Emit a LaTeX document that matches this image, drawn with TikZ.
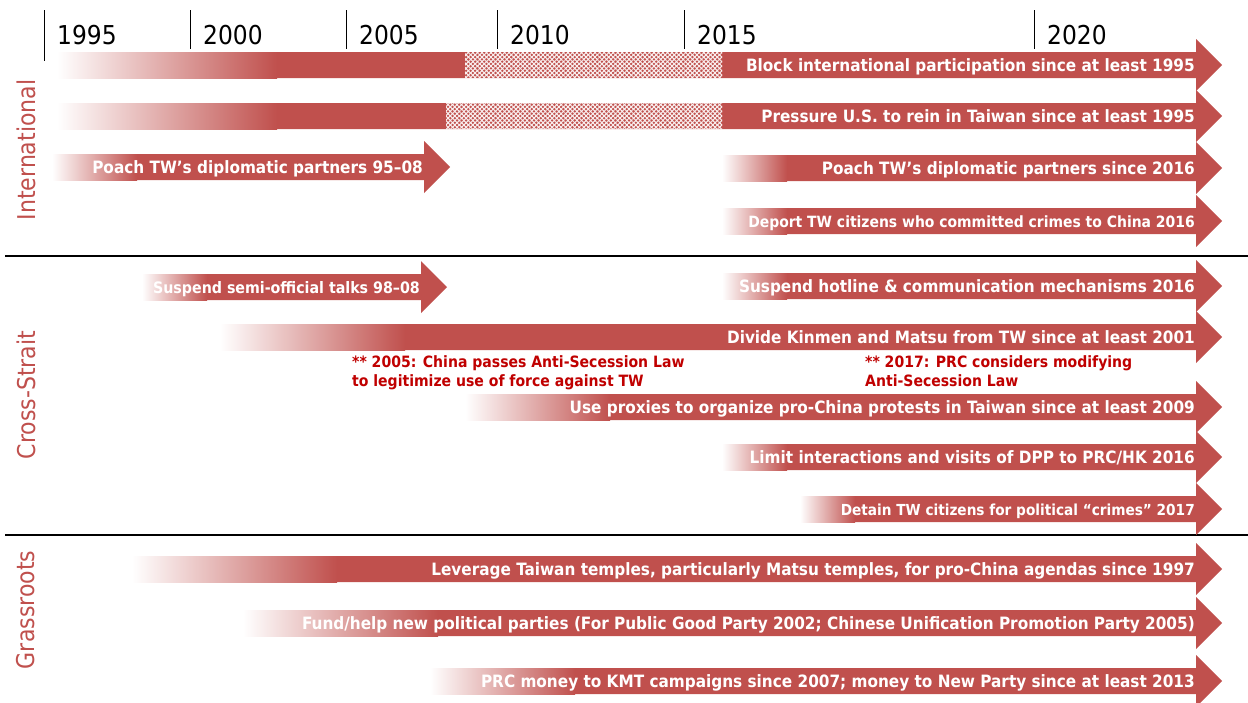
\documentclass[tikz,border=0pt]{standalone}
\usepackage{fontspec}
\setmainfont{DejaVu Sans Condensed}
\usetikzlibrary{patterns.meta}
\definecolor{barred}{RGB}{192,80,77}
\definecolor{notered}{RGB}{192,0,0}
\tikzset{
  bartext/.style={font=\bfseries\fontsize{17}{17}\selectfont, text=white, inner sep=0pt, anchor=base east},
  smalltext/.style={font=\bfseries\fontsize{#1}{#1}\selectfont},
  yeartext/.style={font=\fontsize{26}{26}\selectfont, inner sep=0pt, anchor=base west},
  grouplabel/.style={font=\fontsize{24.5}{24.5}\selectfont, text=barred, inner sep=0pt, rotate=90},
  notetext/.style={font=\bfseries\fontsize{15.6}{19}\selectfont, text=notered, inner sep=0pt, anchor=north west, align=left},
  divider/.style={line width=1.5pt, black},
  tick/.style={line width=1pt, black},
  hatcha/.style={pattern={Lines[angle=45, distance=3.2pt, line width=1.05pt]}, pattern color=white!92!barred},
  hatchb/.style={pattern={Lines[angle=-45, distance=3.2pt, line width=1.05pt]}, pattern color=white!92!barred}
}
% [#1 extra text options] #2 start x, #3 head base x, #4 centre y, #5 fade length, #6 node name, #7 text
\newcommand\tlarrow[7][]{%
  \fill[barred] (#2,#4-13) -- (#3,#4-13) -- (#3,#4-26) -- (#3+26,#4) -- (#3,#4+26) -- (#3,#4+13) -- (#2,#4+13) -- cycle;
  \shade[left color=white, right color=barred] (#2,#4-13) rectangle (#2+#5,#4+13);
  \node[bartext,#1] (#6) at (#3-1,#4+6) {#7};
}
% dotted stretch on a bar: #1 from x, #2 to x, #3 centre y
\newcommand\tlhatch[3]{%
  \fill[hatcha] (#1,#3-13) rectangle (#2,#3+13);
  \fill[hatchb] (#1,#3-13) rectangle (#2,#3+13);
}
\begin{document}
\begin{tikzpicture}[x=1pt, y=-1pt]
\useasboundingbox (0,0) rectangle (1248,702);
\fill[white] (0,0) rectangle (1248,702);

% year ticks and labels
\draw[tick] (44,10) -- (44,61);
\foreach \xx in {190,346,497,684,1034} \draw[tick] (\xx,10) -- (\xx,49);
\node[yeartext] (y1995) at (57,44) {1995};
\node[yeartext] (y2000) at (203,44) {2000};
\node[yeartext] (y2005) at (359,44) {2005};
\node[yeartext] (y2010) at (510,44) {2010};
\node[yeartext] (y2015) at (697,44) {2015};
\node[yeartext] (y2020) at (1047,44) {2020};

% section dividers
\draw[divider] (5,256) -- (1248,256);
\draw[divider] (5,535) -- (1248,535);

% section labels
\node[grouplabel] (intl) at (26,150) {International};
\node[grouplabel] (cross) at (26,395) {Cross-Strait};
\node[grouplabel] (grass) at (26,610) {Grassroots};

% International
\tlarrow{57}{1196}{65}{220}{block}{}
\tlhatch{465}{722}{65}
\node[bartext] (blockt) at (1195,71) {Block international participation since at least 1995};
\tlarrow{57}{1196}{116}{220}{press}{}
\tlhatch{446}{722}{116}
\node[bartext] (presst) at (1195,122) {Pressure U.S. to rein in Taiwan since at least 1995};
\tlarrow{52}{424}{167}{85}{poacha}{Poach TW’s diplomatic partners 95–08}
\tlarrow{722}{1196}{168}{65}{poachb}{Poach TW’s diplomatic partners since 2016}
\tlarrow[smalltext=15.5, yshift=-0.4pt]{722}{1196}{221}{65}{deport}{Deport TW citizens who committed crimes to China 2016}

% Cross-Strait
\tlarrow[smalltext=15.8, yshift=-0.4pt]{142}{421}{287}{65}{talks}{Suspend semi-official talks 98–08}
\tlarrow{722}{1196}{286}{65}{hotline}{Suspend hotline \& communication mechanisms 2016}
\tlarrow{220}{1196}{337}{185}{kinmen}{Divide Kinmen and Matsu from TW since at least 2001}
\node[notetext] (note05) at (352,355) {** 2005: China passes Anti-Secession Law\\to legitimize use of force against TW};
\node[notetext] (note17) at (865,355) {** 2017: PRC considers modifying\\Anti-Secession Law};
\tlarrow{465}{1196}{407}{145}{proxies}{Use proxies to organize pro-China protests in Taiwan since at least 2009}
\tlarrow{722}{1196}{457}{65}{dpp}{Limit interactions and visits of DPP to PRC/HK 2016}
\tlarrow[smalltext=15.2, yshift=-0.6pt]{800}{1196}{509}{55}{detain}{Detain TW citizens for political “crimes” 2017}

% Grassroots
\tlarrow{132}{1196}{569}{205}{temples}{Leverage Taiwan temples, particularly Matsu temples, for pro-China agendas since 1997}
\tlarrow{243}{1196}{623}{195}{parties}{Fund/help new political parties (For Public Good Party 2002; Chinese Unification Promotion Party 2005)}
\tlarrow{430}{1196}{681}{145}{money}{PRC money to KMT campaigns since 2007; money to New Party since at least 2013}
\end{tikzpicture}
\end{document}
